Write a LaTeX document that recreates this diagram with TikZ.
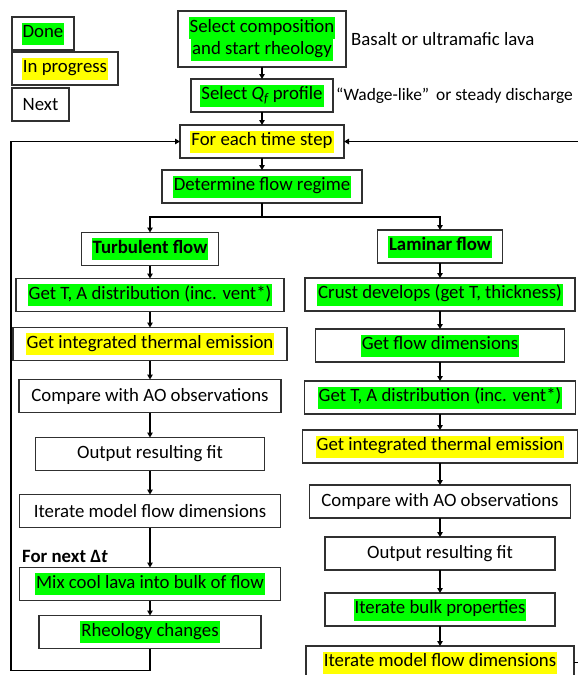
\documentclass[tikz,border=0pt]{standalone}
\usepackage{fontspec}
\setmainfont{Carlito}
\usetikzlibrary{arrows.meta,positioning}
\definecolor{hldone}{HTML}{00FF00}
\definecolor{hlprog}{HTML}{FFFF00}
\definecolor{boxline}{HTML}{303030}
% highlighted text: done / in progress
\newcommand{\dn}[1]{{\setlength{\fboxsep}{0pt}\colorbox{hldone}{\kern1pt\strut#1\kern1pt}}}
\newcommand{\ip}[1]{{\setlength{\fboxsep}{0pt}\colorbox{hlprog}{\kern1pt\strut#1\kern1pt}}}

\begin{document}
\begin{tikzpicture}[
  x=1pt, y=-1pt,
  box/.style={draw=boxline,fill=white,line width=1.1pt,align=center,inner xsep=2pt,inner ysep=0pt,
    outer sep=0pt,minimum height=33pt,font=\fontsize{18.8}{22}\selectfont},
  note/.style={font=\fontsize{18.8}{22}\selectfont,inner sep=3pt},
  arr/.style={line width=1.2pt,-{Triangle[length=5pt,width=5.5pt]}}]
  \useasboundingbox (0,0) rectangle (578,675);
  \clip (0,0) rectangle (578,675);
  % legend
  \node[box,minimum width=62pt] (done) at (43,33.5) {\dn{Done}};
  \node[box,minimum width=106pt,below right=2pt and 0pt of done.south west] (prog) {\ip{In progress}};
  \node[box,minimum width=57pt,below right=3pt and 0pt of prog.south west] (next) {Next};
  % set-up
  \node[box,minimum width=168pt,minimum height=56pt] (sel) at (262,39) {\dn{Select composition}\\\dn{and start rheology}};
  \node[box,minimum width=142pt,below=12pt of sel] (qf) {\dn{Select \textit{Q\textsubscript{f}} profile}};
  \node[box,minimum width=164pt,below=13pt of qf] (time) {\ip{For each time step}};
  \node[box,minimum width=200pt,below=12pt of time] (regime) {\dn{Determine flow regime}};
  \node[note,right=2pt of sel] (basalt) {Basalt or ultramafic lava};
  \node[note,right=1pt of qf,inner sep=2pt,font=\fontsize{17.4}{22}\selectfont] (wadge) {“Wadge-like”\hspace{0.4em}or steady discharge};
  % turbulent branch
  \node[box,minimum width=137pt] (turb) at (150,249) {\dn{\textbf{Turbulent flow}}};
  \node[box,minimum width=268pt,below=13pt of turb] (lta) {\dn{Get T, A distribution (inc. vent*)}};
  \node[box,minimum width=274pt,below=16pt of lta] (lint) {\ip{Get integrated thermal emission}};
  \node[box,minimum width=262pt,below=19pt of lint] (lcmp) {Compare with AO observations};
  \node[box,minimum width=229pt,below=25pt of lcmp] (lout) {Output resulting fit};
  \node[box,minimum width=261pt,below=24pt of lout] (lit) {Iterate model flow dimensions};
  \node[box,minimum width=261pt,below=40pt of lit] (mix) {\dn{Mix cool lava into bulk of flow}};
  \node[box,minimum width=222pt,below=15pt of mix] (rheo) {\dn{Rheology changes}};
  \node[note,anchor=west,inner sep=0pt,font=\fontsize{18.8}{22}\selectfont\bfseries] (nextdt) at (22,556) {For next Δ\textit{t}};
  % laminar branch
  \node[box,minimum width=125pt] (lam) at (440,246.5) {\dn{\textbf{Laminar flow}}};
  \node[box,minimum width=270pt,below=15pt of lam] (crust) {\dn{Crust develops (get T, thickness)}};
  \node[box,minimum width=249pt,below=18pt of crust] (fdim) {\dn{Get flow dimensions}};
  \node[box,minimum width=271pt,below=19pt of fdim] (rta) {\dn{Get T, A distribution (inc. vent*)}};
  \node[box,minimum width=275pt,below=16pt of rta] (rint) {\ip{Get integrated thermal emission}};
  \node[box,minimum width=261pt,below=22pt of rint] (rcmp) {Compare with AO observations};
  \node[box,minimum width=230pt,below=19pt of rcmp] (rout) {Output resulting fit};
  \node[box,minimum width=230pt,below=23pt of rout] (bulk) {\dn{Iterate bulk properties}};
  \node[box,minimum width=268pt,below=20pt of bulk] (rit) {\ip{Iterate model flow dimensions}};
  % connectors
  \foreach \a/\b in {sel/qf,qf/time,time/regime,
    turb/lta,lta/lint,lint/lcmp,lcmp/lout,lout/lit,lit/mix,mix/rheo,
    lam/crust,crust/fdim,fdim/rta,rta/rint,rint/rcmp,rcmp/rout,rout/bulk,bulk/rit}
    \draw[arr] (\a.south) -- (\b.north);
  \coordinate (split) at ([yshift=-14pt]regime.south);
  \draw[arr] (regime.south) -- (split) -| (turb.north);
  \draw[arr] (split) -| (lam.north);
  % time loops
  \draw[arr] (rheo.south) -- ++(0,22) -| ([xshift=-169pt]time.west) -- (time.west);
  \draw[arr] (rit.east) -| ([xshift=250pt]time.east) -- (time.east);
\end{tikzpicture}
\end{document}
